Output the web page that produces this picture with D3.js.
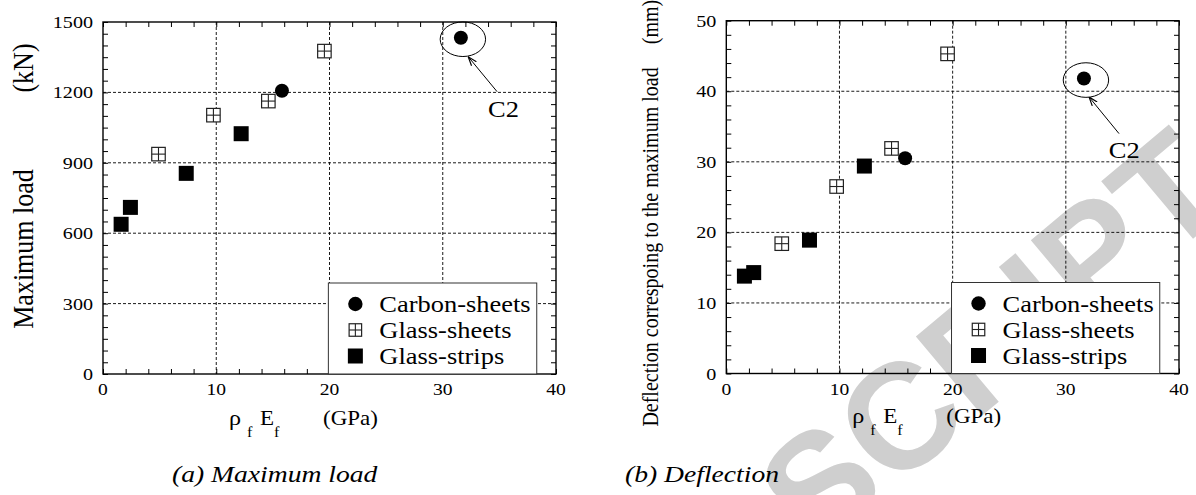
<!DOCTYPE html>
<html>
<head>
<meta charset="utf-8">
<script src="https://cdn.jsdelivr.net/npm/d3@7"></script>
<style>
  body { margin: 0; background: #fff; }
  svg text { font-family: "Liberation Serif", "Times New Roman", serif; fill: #000; }
</style>
</head>
<body>
<div id="chart"></div>
<script>
// ---- data ----
const xTicks = [0, 10, 20, 30, 40];
const loadTicks = [0, 300, 600, 900, 1200, 1500];
const deflTicks = [0, 10, 20, 30, 40, 50];

const carbonE = [15.8, 31.6];
const carbonLoad = [1207, 1433];
const carbonDefl = [30.5, 41.8];

const sheetE = [4.9, 9.75, 14.6, 19.55];
const sheetLoad = [937, 1103, 1163, 1376];
const sheetDefl = [18.4, 26.5, 31.9, 45.3];

const stripE = [1.6, 2.42, 7.35, 12.2];
const stripLoad = [638, 710, 855, 1024];
const stripDefl = [13.8, 14.3, 18.9, 29.4];

const legendNames = ["Carbon-sheets", "Glass-sheets", "Glass-strips"];

const W = 1196, H = 495;
const SX = 1.15; // the original figure is a bit stretched sideways
const SERIF = "'Liberation Serif', 'Times New Roman', serif";

const svg = d3.select("#chart").append("svg")
  .attr("width", W).attr("height", H);

// light grey watermark, sits under everything
svg.append("text")
  .attr("transform", "translate(815,556) rotate(-40)")
  .style("font-family", "'Liberation Sans', Arial, sans-serif")
  .style("font-weight", "bold")
  .style("font-size", "150px")
  .style("fill", "#cfcfcf")
  .text("SCRIPT");

svg.append("defs").append("marker")
  .attr("id", "arrow")
  .attr("viewBox", "0 0 10 10")
  .attr("refX", 9).attr("refY", 5)
  .attr("markerWidth", 9).attr("markerHeight", 9)
  .attr("orient", "auto")
  .append("path")
  .attr("d", "M0,1.5 L10,5 L0,8.5")
  .attr("fill", "none")
  .attr("stroke", "#000")
  .attr("stroke-width", 1.3);

// text helper: stretched horizontally like the source
function label(g, x, y, str, size, opts = {}) {
  const rot = opts.rotate ? ` rotate(${opts.rotate})` : "";
  return g.append("text")
    .attr("transform", `translate(${x},${y}) scale(${SX},1)${rot}`)
    .attr("text-anchor", opts.anchor || "start")
    .style("font-family", SERIF)
    .style("font-size", size + "px")
    .style("font-style", opts.italic ? "italic" : null)
    .text(str);
}

function drawPanel(cfg) {
  const x = d3.scaleLinear().domain([0, 40]).range([cfg.left, cfg.right]);
  const y = d3.scaleLinear().domain(cfg.yDomain).range([cfg.bottom, cfg.top]);
  const g = svg.append("g");

  // dashed grid at the major ticks
  g.selectAll("line.gx").data(xTicks.slice(1, -1)).enter().append("line")
    .attr("x1", d => x(d)).attr("x2", d => x(d))
    .attr("y1", cfg.top).attr("y2", cfg.bottom)
    .attr("stroke", "#000").attr("stroke-width", 0.9)
    .attr("stroke-dasharray", "3,2");
  g.selectAll("line.gy").data(cfg.yTicks.slice(1, -1)).enter().append("line")
    .attr("y1", d => y(d)).attr("y2", d => y(d))
    .attr("x1", cfg.left).attr("x2", cfg.right)
    .attr("stroke", "#000").attr("stroke-width", 0.9)
    .attr("stroke-dasharray", "3,2");

  // inward ticks on all four sides
  const xMinor = d3.range(0, 40.01, 2);
  const yMinor = d3.range(cfg.yDomain[0], cfg.yDomain[1] + 0.01, cfg.yMinorStep);
  const tl = 5;
  g.append("g").attr("transform", `translate(0,${cfg.bottom})`)
    .call(d3.axisTop(x).tickValues(xMinor).tickSize(tl).tickFormat(""));
  g.append("g").attr("transform", `translate(0,${cfg.top})`)
    .call(d3.axisBottom(x).tickValues(xMinor).tickSize(tl).tickFormat(""));
  g.append("g").attr("transform", `translate(${cfg.left},0)`)
    .call(d3.axisRight(y).tickValues(yMinor).tickSize(tl).tickFormat(""));
  g.append("g").attr("transform", `translate(${cfg.right},0)`)
    .call(d3.axisLeft(y).tickValues(yMinor).tickSize(tl).tickFormat(""));
  g.selectAll(".domain").remove();
  g.selectAll(".tick line").attr("stroke", "#000").attr("stroke-width", 1);

  // frame
  g.append("rect")
    .attr("x", cfg.left).attr("y", cfg.top)
    .attr("width", cfg.right - cfg.left).attr("height", cfg.bottom - cfg.top)
    .attr("fill", "none").attr("stroke", "#000").attr("stroke-width", 1.4);

  // tick labels
  xTicks.forEach(t => label(g, x(t), cfg.bottom + 21, t, 17, { anchor: "middle" }));
  cfg.yTicks.forEach(t => label(g, cfg.left - 10, y(t) + 6, t, 17.5, { anchor: "end" }));

  // legend (white box, drawn over the grid)
  const lg = g.append("g");
  lg.append("rect")
    .attr("x", x(cfg.legend.x0)).attr("y", cfg.bottom - 91)
    .attr("width", x(cfg.legend.x1) - x(cfg.legend.x0)).attr("height", 91)
    .attr("fill", "#fff").attr("stroke", "#333").attr("stroke-width", 1);
  const mx = x(cfg.legend.x0) + 27, tx = x(cfg.legend.x0) + 51;
  legendNames.forEach((name, i) => {
    const cy = cfg.bottom - 70 + i * 26;
    if (i === 0) lg.append("circle").attr("cx", mx).attr("cy", cy).attr("r", 7.2);
    if (i === 1) crossSquare(lg, mx, cy, 12.5);
    if (i === 2) lg.append("rect").attr("x", mx - 7.5).attr("y", cy - 7.5)
      .attr("width", 15).attr("height", 15);
    label(lg, tx, cy + 8, name, 23);
  });

  // markers
  g.selectAll("rect.strip").data(d3.zip(stripE, cfg.strip)).enter().append("rect")
    .attr("x", d => x(d[0]) - 7.5).attr("y", d => y(d[1]) - 7.5)
    .attr("width", 15).attr("height", 15).attr("fill", "#000");
  d3.zip(sheetE, cfg.sheet).forEach(d => crossSquare(g, x(d[0]), y(d[1]), 13.5));
  g.selectAll("circle.carbon").data(d3.zip(carbonE, cfg.carbon)).enter().append("circle")
    .attr("cx", d => x(d[0])).attr("cy", d => y(d[1])).attr("r", 7).attr("fill", "#000");

  // C2 annotation
  const c2 = [carbonE[1], cfg.carbon[1]];
  g.append("ellipse")
    .attr("cx", x(c2[0]) + 2).attr("cy", y(c2[1]) + 1.5)
    .attr("rx", 22.7).attr("ry", 17.3)
    .attr("fill", "none").attr("stroke", "#000").attr("stroke-width", 1);
  g.append("line")
    .attr("x1", x(cfg.c2.tail[0])).attr("y1", y(cfg.c2.tail[1]))
    .attr("x2", x(cfg.c2.head[0])).attr("y2", y(cfg.c2.head[1]))
    .attr("stroke", "#000").attr("stroke-width", 1)
    .attr("marker-end", "url(#arrow)");
  label(g, x(cfg.c2.text[0]), y(cfg.c2.text[1]), "C2", 23);

  // x title: rho_f E_f (GPa)
  const xb = cfg.bottom + cfg.xTitleDy;
  label(g, cfg.left + 126, xb, "\u03c1", 21);
  label(g, cfg.left + 144, xb + 12, "f", 14);
  label(g, cfg.left + 157, xb, "E", 20);
  label(g, cfg.left + 171, xb + 12, "f", 14);
  label(g, cfg.left + 220, xb, "(GPa)", 20);

  // y title (two pieces)
  const yt = cfg.yTitle;
  label(g, cfg.left + yt.dx, yt.cy, yt.main, yt.size, { anchor: "middle", rotate: -90 });
  label(g, cfg.left + yt.dx, yt.unitY, yt.unit, yt.size, { anchor: "middle", rotate: -90 });

  // caption
  label(svg, cfg.caption.x, 482, cfg.caption.text, 24, { italic: true });
}

function crossSquare(g, cx, cy, s) {
  const h = s / 2;
  g.append("rect").attr("x", cx - h).attr("y", cy - h)
    .attr("width", s).attr("height", s)
    .attr("fill", "#fff").attr("stroke", "#222").attr("stroke-width", 1.2);
  g.append("line").attr("x1", cx).attr("x2", cx).attr("y1", cy - h).attr("y2", cy + h)
    .attr("stroke", "#222").attr("stroke-width", 1.1);
  g.append("line").attr("x1", cx - h).attr("x2", cx + h).attr("y1", cy).attr("y2", cy)
    .attr("stroke", "#222").attr("stroke-width", 1.1);
}

drawPanel({
  left: 103, right: 556, top: 22, bottom: 374,
  yDomain: [0, 1500], yTicks: loadTicks, yMinorStep: 50,
  carbon: carbonLoad, sheet: sheetLoad, strip: stripLoad,
  legend: { x0: 19.9, x1: 38.3 },
  c2: { tail: [34.8, 1203], head: [32.3, 1349], text: [34.0, 1094] },
  xTitleDy: 51,
  yTitle: { dx: -70, cy: 249, unitY: 68, main: "Maximum load", unit: "(kN)", size: 26 },
  caption: { x: 172, text: "(a) Maximum load" }
});

drawPanel({
  left: 726.3, right: 1179, top: 20.7, bottom: 373.5,
  yDomain: [0, 50], yTicks: deflTicks, yMinorStep: 2,
  carbon: carbonDefl, sheet: sheetDefl, strip: stripDefl,
  legend: { x0: 19.9, x1: 38.3 },
  c2: { tail: [34.7, 34.0], head: [32.1, 39.1], text: [33.8, 30.6] },
  xTitleDy: 49,
  yTitle: { dx: -68, cy: 247, unitY: 22, main: "Deflection correspoing to the maximum load", unit: "(mm)", size: 20 },
  caption: { x: 625, text: "(b) Deflection" }
});
</script>
</body>
</html>
